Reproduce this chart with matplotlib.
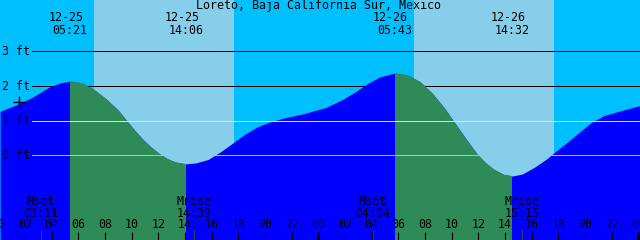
import numpy as np
import matplotlib.pyplot as plt
from matplotlib.transforms import blended_transform_factory

# tide height (ft), hours counted from 00:00 on 12-25
hours = [0.13, 1.35, 2.57, 3.80, 4.72, 5.39, 6.25, 7.17, 8.08, 9.00, 9.61,
         10.23, 10.84, 11.45, 12.06, 12.68, 13.29, 14.05, 14.82, 15.74, 16.66,
         17.64, 18.49, 19.41, 20.33, 21.55, 23.08, 24.61, 25.84, 26.76, 27.68,
         28.59, 29.76, 30.74, 31.65, 32.57, 33.49, 34.10, 34.72, 35.33, 35.94,
         36.55, 37.17, 37.93, 38.54, 39.31, 40.23, 41.14, 41.76, 42.68, 43.59,
         44.51, 45.43, 46.35, 47.27, 48.12]
height = [1.27, 1.46, 1.68, 1.97, 2.10, 2.14, 2.09, 1.90, 1.63, 1.30, 1.01,
          0.72, 0.46, 0.24, 0.05, -0.10, -0.20, -0.25, -0.22, -0.12, 0.10,
          0.37, 0.61, 0.82, 0.96, 1.09, 1.22, 1.39, 1.62, 1.83, 2.07,
          2.26, 2.38, 2.31, 2.12, 1.78, 1.35, 1.01, 0.67, 0.34, 0.02,
          -0.22, -0.41, -0.56, -0.60, -0.54, -0.34, -0.10, 0.10, 0.38, 0.67,
          0.96, 1.15, 1.25, 1.35, 1.44]

# high / low tide events
tide_dates = ["12-25", "12-25", "12-26", "12-26"]
tide_times = ["05:21", "14:06", "05:43", "14:32"]
tide_hours = [5.35, 14.10, 29.72, 38.53]

# moon events
moon_names = ["Mset", "Mrise", "Mset", "Mrise"]
moon_times = ["03:11", "14:39", "04:04", "15:15"]
moon_hours = [3.18, 14.65, 28.07, 39.25]

# daylight (sunrise, sunset)
daylight = [(7.18, 17.68), (31.18, 41.68)]

ft_levels = [3, 2, 1, 0]
hour_ticks = list(range(0, 49, 2))
hour_labels = ["%02d" % (h % 24) for h in hour_ticks]

mark = (1.58, 1.54)

plt.rcParams['font.family'] = ['DejaVu Sans Mono']
fs = 8.4

fig = plt.figure(figsize=(6.4, 2.4), dpi=100)
ax = fig.add_axes([0, 0, 1, 1])
ax.set_xlim(0.125, 48.125)
ax.set_ylim(-2.448, 4.488)
ax.axis('off')
fig.patch.set_facecolor('#00BFFF')
ax.set_facecolor('#00BFFF')

bt = blended_transform_factory(ax.transData, ax.transAxes)
def yfrac(py):
    return 1 - py / 240.0

ax.axvspan(-1, 50, color='#00BFFF', zorder=0)
for sr, ss in daylight:
    ax.axvspan(sr, ss, color='#87CEEB', lw=0, zorder=0.5)

# level lines start just right of the "ft" labels
x_start = 32 / 640
for lev in (3, 2):
    ax.axhline(lev, xmin=x_start, color='black', lw=0.72, snap=True, zorder=1)

poly = ax.fill_between(hours, height, -3, color='#0000FF', lw=0, zorder=2)
clip = poly.get_paths()[0]
for i in (0, 2):
    g = ax.axvspan(tide_hours[i], tide_hours[i + 1], color='#2E8B57', lw=0, zorder=3)
    g.set_clip_path(clip, ax.transData)

ax.axhline(1, xmin=x_start, color='#FFFF00', lw=0.72, snap=True, zorder=4)
ax.axhline(0, xmin=x_start, color='#87CEEB', lw=0.72, snap=True, zorder=4)

for lev in ft_levels:
    ax.text(0.28, lev, "%d ft" % lev, fontsize=fs, ha='left', va='center', zorder=6)

ax.plot(*mark, marker='+', color='black', ms=9, mew=1.0, zorder=6)

ax.text(24, yfrac(6), "Loreto, Baja California Sur, Mexico", transform=bt,
        fontsize=fs, ha='center', va='center', zorder=6)

for d, t, h in zip(tide_dates, tide_times, tide_hours):
    ax.text(h - 0.3, yfrac(17.5), d, transform=bt, fontsize=fs, ha='center', va='center', zorder=6)
    ax.text(h, yfrac(30), t, transform=bt, fontsize=fs, ha='center', va='center', zorder=6)

for n, t, h in zip(moon_names, moon_times, moon_hours):
    ax.text(h, yfrac(201.5), n, transform=bt, fontsize=fs, ha='center', va='center', zorder=6)
    ax.text(h, yfrac(213.5), t, transform=bt, fontsize=fs, ha='center', va='center', zorder=6)
    ax.vlines(h, 0, yfrac(230), transform=bt, color='#404040', lw=0.8, zorder=5)

for h, lab in zip(hour_ticks, hour_labels):
    ax.text(h, yfrac(225), lab, transform=bt, fontsize=fs, ha='center', va='center', zorder=6)
    lw = 2.2 if h % 24 == 0 else 0.8
    ax.vlines(h, 0, yfrac(231.7), transform=bt, color='black', lw=lw, zorder=5)

fig.savefig('out.png', dpi=100)
